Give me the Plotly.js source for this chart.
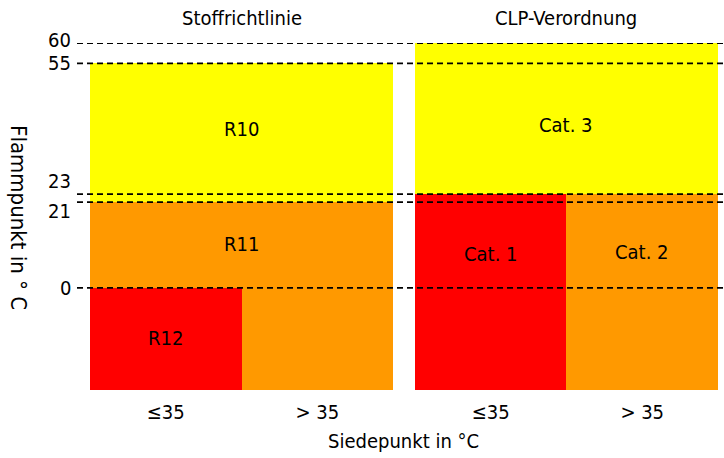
<!DOCTYPE html>
<html>
<head>
<meta charset="utf-8">
<script src="https://cdn.plot.ly/plotly-3.0.1.min.js"></script>
<style>html,body{margin:0;padding:0;background:#fff}#chart{width:724px;height:458px}</style>
</head>
<body>
<div id="chart"></div>
<script>
// ---- data ----
const panelTitles = ["Stoffrichtlinie", "CLP-Verordnung"];
const boilingCats = ["≤35", "> 35"];
const flashTicks = [60, 55, 23, 21, 0];
const flashBottom = -25;
// cells: panel index, boiling category index, flash-point band, hazard class
const cellPanel = [0, 0, 0, 0, 0, 1, 1, 1, 1];
const cellCol   = [0, 0, 0, 1, 1, 0, 0, 1, 1];
const cellLow   = [-25, 0, 21, -25, 21, -25, 23, -25, 23];
const cellHigh  = [0, 21, 55, 21, 55, 23, 60, 23, 60];
const cellClass = ["high", "mid", "low", "mid", "low", "high", "low", "mid", "low"];
// region labels
const labelText  = ["R10", "R11", "R12", "Cat. 3", "Cat. 1", "Cat. 2"];
const labelPanel = [0, 0, 0, 1, 1, 1];
const labelCol   = [0.5, 0.5, 0, 0.5, 0, 1];
const labelFlash = [39, 10.8, -12.2, 40, 8.3, 8.9];
const xTitle = "Siedepunkt in °C";
const yTitle = "Flammpunkt in ° C";

// ---- styling / layout ----
const classColor = {high: "#ff0000", mid: "#ff9900", low: "#ffff00"};
const panelOffset = 2.145;
const FONT = "DejaVu Sans Condensed, DejaVu Sans, sans-serif";
const W = 724, H = 458, ML = 77, MR = 0, MT = 42.5, MB = 67.5;
const plotW = W - ML - MR, plotH = H - MT - MB;
const pxToPaperX = px => (px - ML) / plotW;
const pxToPaperY = py => (H - MB - py) / plotH;

const xs = cellCol.map((c, i) => cellPanel[i] * panelOffset + c + 0.5);
const trace = {
  type: "bar",
  x: xs,
  base: cellLow,
  y: cellHigh.map((h, i) => h - cellLow[i]),
  width: xs.map(() => 1),
  marker: {color: cellClass.map(c => classColor[c]), line: {width: 0}},
  hoverinfo: "skip",
  showlegend: false
};

const tickVals = [], tickText = [];
panelTitles.forEach((p, pi) => boilingCats.forEach((c, ci) => {
  tickVals.push(pi * panelOffset + ci + 0.5); tickText.push(c);
}));

const shapes = flashTicks.map(v => ({
  type: "line", xref: "paper", yref: "y", x0: 0, x1: 1, y0: v, y1: v,
  line: {color: "#000", width: 1.8, dash: "6px,4px"}, layer: "above"
}));

const tickShift = {60: 3.5, 55: 0, 23: 13, 21: -8.5, 0: 0};
const annotations = [];
flashTicks.forEach(v => annotations.push({
  text: String(v), xref: "paper", yref: "y", x: 0, y: v, xanchor: "right", yanchor: "middle",
  xshift: -4, yshift: tickShift[v], showarrow: false, font: {family: FONT, size: 20, color: "#000"}
}));
labelText.forEach((t, i) => annotations.push({
  text: t, xref: "x", yref: "y", x: labelPanel[i] * panelOffset + labelCol[i] + 0.5, y: labelFlash[i],
  showarrow: false, font: {family: FONT, size: 20, color: "#000"}
}));
panelTitles.forEach((t, i) => annotations.push({
  text: t, xref: "x", yref: "paper", x: i * panelOffset + 1, y: pxToPaperY(17),
  yanchor: "middle", showarrow: false, font: {family: FONT, size: 20, color: "#000"}
}));
annotations.push({
  text: xTitle, xref: "x", yref: "paper", x: (panelOffset + 2) / 2, y: pxToPaperY(442),
  yanchor: "middle", showarrow: false, font: {family: FONT, size: 20, color: "#000"}
});
annotations.push({
  text: yTitle, xref: "paper", yref: "paper", x: pxToPaperX(18), y: pxToPaperY(217),
  xanchor: "center", yanchor: "middle", textangle: 90, showarrow: false,
  font: {family: FONT, size: 22, color: "#000"}
});

const layout = {
  width: W, height: H,
  margin: {l: ML, r: MR, t: MT, b: MB, pad: 0},
  paper_bgcolor: "#fff", plot_bgcolor: "#fff",
  barmode: "overlay", bargap: 0,
  xaxis: {
    range: [(ML - 90) / 151.5, (W - 90) / 151.5],
    tickmode: "array", tickvals: tickVals, ticktext: tickText,
    ticks: "", ticklabelstandoff: 8,
    tickfont: {family: FONT, size: 20, color: "#000"},
    showgrid: false, zeroline: false, showline: false, fixedrange: true
  },
  yaxis: {
    range: [flashBottom, 60], showticklabels: false, ticks: "",
    showgrid: false, zeroline: false, showline: false, fixedrange: true
  },
  shapes: shapes,
  annotations: annotations,
  font: {family: FONT, color: "#000"}
};

Plotly.newPlot("chart", [trace], layout, {displayModeBar: false, staticPlot: true});
</script>
</body>
</html>
